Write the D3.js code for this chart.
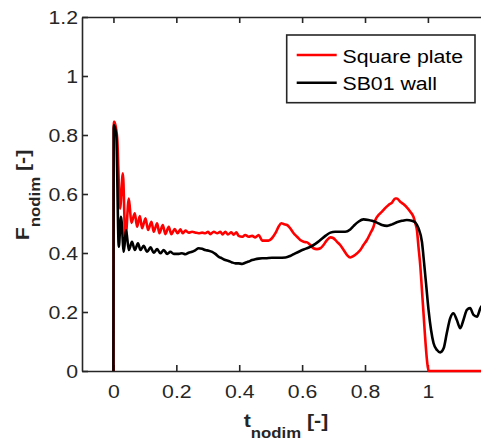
<!DOCTYPE html>
<html>
<head>
<meta charset="utf-8">
<script src="https://cdn.jsdelivr.net/npm/d3@7"></script>
<style>
body { margin: 0; background: #fff; }
svg { display: block; font-family: "Liberation Sans", Arial, Helvetica, sans-serif; }
</style>
</head>
<body>
<div id="graph"></div>
<script>
//axis ticks (the 1.2 label on x is cut off in the picture, so it stays empty)
let xTicks = [0, 0.2, 0.4, 0.6, 0.8, 1, 1.2];
let xTickLabels = ["0", "0.2", "0.4", "0.6", "0.8", "1", ""];
let yTicks = [0, 0.2, 0.4, 0.6, 0.8, 1, 1.2];
let yTickLabels = ["0", "0.2", "0.4", "0.6", "0.8", "1", "1.2"];

//series names
let seriesNames = ["Square plate", "SB01 wall"];

//square plate
let plateT = [0, 0.001, 0.003, 0.012, 0.021, 0.030, 0.038, 0.049, 0.057, 0.068,
    0.075, 0.084, 0.091, 0.102, 0.110, 0.121, 0.128, 0.139, 0.146, 0.157,
    0.165, 0.176, 0.184, 0.195, 0.204, 0.213, 0.220, 0.229, 0.239, 0.250,
    0.261, 0.271, 0.282, 0.292, 0.301, 0.308, 0.319, 0.330, 0.340, 0.347,
    0.356, 0.364, 0.375, 0.382, 0.391, 0.398, 0.409, 0.419, 0.430, 0.441,
    0.451, 0.462, 0.473, 0.483, 0.493, 0.504, 0.515, 0.525, 0.534, 0.541,
    0.552, 0.562, 0.573, 0.584, 0.594, 0.605, 0.616, 0.626, 0.636, 0.647,
    0.658, 0.668, 0.679, 0.690, 0.700, 0.711, 0.721, 0.732, 0.743, 0.753,
    0.764, 0.775, 0.785, 0.795, 0.806, 0.817, 0.827, 0.833, 0.843, 0.854,
    0.864, 0.875, 0.886, 0.896, 0.901, 0.912, 0.922, 0.933, 0.944, 0.954,
    0.960, 0.965, 0.970, 0.976, 0.981, 0.986, 0.991, 0.997, 1.002, 1.2];
let plateF = [0, 0.845, 0.845, 0.789, 0.550, 0.670, 0.444, 0.585, 0.502, 0.535,
    0.489, 0.525, 0.484, 0.518, 0.478, 0.506, 0.472, 0.501, 0.467, 0.495,
    0.464, 0.489, 0.464, 0.481, 0.467, 0.480, 0.467, 0.476, 0.469, 0.472,
    0.469, 0.467, 0.469, 0.467, 0.472, 0.464, 0.472, 0.467, 0.472, 0.463,
    0.472, 0.463, 0.470, 0.462, 0.470, 0.458, 0.455, 0.461, 0.455, 0.458,
    0.453, 0.461, 0.442, 0.442, 0.442, 0.450, 0.467, 0.489, 0.501, 0.498,
    0.495, 0.484, 0.467, 0.455, 0.444, 0.438, 0.436, 0.427, 0.416, 0.413,
    0.416, 0.427, 0.444, 0.453, 0.450, 0.438, 0.427, 0.410, 0.393, 0.385,
    0.390, 0.399, 0.410, 0.427, 0.444, 0.467, 0.489, 0.512, 0.529, 0.540,
    0.552, 0.563, 0.571, 0.585, 0.585, 0.574, 0.566, 0.555, 0.540, 0.523,
    0.501, 0.478, 0.421, 0.354, 0.275, 0.196, 0.116, 0.037, 0, 0];

//SB01 wall
let wallT = [0, 0.001, 0.009, 0.017, 0.024, 0.033, 0.040, 0.049, 0.059, 0.068,
    0.078, 0.086, 0.096, 0.107, 0.118, 0.128, 0.139, 0.149, 0.160, 0.171,
    0.181, 0.192, 0.208, 0.218, 0.229, 0.239, 0.250, 0.261, 0.271, 0.282,
    0.292, 0.303, 0.314, 0.324, 0.335, 0.345, 0.356, 0.366, 0.377, 0.388,
    0.398, 0.409, 0.419, 0.430, 0.441, 0.451, 0.462, 0.473, 0.483, 0.504,
    0.525, 0.547, 0.562, 0.578, 0.594, 0.610, 0.626, 0.642, 0.658, 0.674,
    0.690, 0.705, 0.721, 0.737, 0.753, 0.764, 0.779, 0.795, 0.811, 0.822,
    0.838, 0.854, 0.870, 0.886, 0.901, 0.917, 0.933, 0.949, 0.960, 0.970,
    0.981, 0.988, 0.995, 1.002, 1.010, 1.018, 1.029, 1.039, 1.050, 1.060,
    1.071, 1.081, 1.092, 1.103, 1.113, 1.124, 1.134, 1.145, 1.156, 1.167,
    1.178, 1.189, 1.2];
let wallF = [0, 0.834, 0.800, 0.421, 0.523, 0.404, 0.478, 0.410, 0.438, 0.410,
    0.433, 0.410, 0.424, 0.404, 0.419, 0.401, 0.413, 0.399, 0.410, 0.397,
    0.404, 0.397, 0.397, 0.399, 0.396, 0.401, 0.404, 0.410, 0.416, 0.414,
    0.410, 0.408, 0.404, 0.397, 0.387, 0.382, 0.376, 0.373, 0.368, 0.365,
    0.365, 0.363, 0.367, 0.371, 0.376, 0.379, 0.381, 0.382, 0.382, 0.384,
    0.384, 0.385, 0.390, 0.399, 0.407, 0.414, 0.421, 0.431, 0.444, 0.458,
    0.469, 0.472, 0.472, 0.472, 0.480, 0.492, 0.506, 0.514, 0.512, 0.509,
    0.503, 0.495, 0.492, 0.497, 0.504, 0.509, 0.512, 0.509, 0.503, 0.484,
    0.438, 0.365, 0.286, 0.207, 0.139, 0.094, 0.071, 0.063, 0.077, 0.128,
    0.179, 0.196, 0.173, 0.145, 0.173, 0.207, 0.213, 0.190, 0.184, 0.213,
    0.225, 0.205, 0.195];

let width = 481, height = 441;
let axisColor = "#262626";
let sx = 1.12; //glyphs in the picture are a bit wider than the font

let svg = d3.select("#graph")
    .append("svg")
    .attr("width", width)
    .attr("height", height);

//scales
let x = d3.scaleLinear().domain([-0.1, 1.2]).range([82, 490.8]);
let y = d3.scaleLinear().domain([0, 1.2]).range([371, 17]);

function styleAxis(g) {
    g.select(".domain").attr("stroke", axisColor).attr("stroke-width", 1.6);
    g.selectAll(".tick line").attr("stroke", axisColor).attr("stroke-width", 1.6);
    g.selectAll(".tick text").attr("fill", axisColor).style("font-size", "19px");
}

//bottom axis
svg.append("g")
    .attr("transform", `translate(0,${y(0)})`)
    .call(d3.axisBottom(x).tickValues(xTicks).tickSizeInner(-6).tickSizeOuter(0)
        .tickPadding(14).tickFormat((d, i) => xTickLabels[i]))
    .call(styleAxis)
    .selectAll(".tick text").attr("transform", `scale(${sx},1)`);

//top axis
svg.append("g")
    .attr("transform", `translate(0,${y(1.2)})`)
    .call(d3.axisTop(x).tickValues(xTicks).tickSizeInner(-6).tickSizeOuter(0).tickFormat(""))
    .call(styleAxis);

//left axis
svg.append("g")
    .attr("transform", `translate(${x(-0.1)},0)`)
    .call(d3.axisLeft(y).tickValues(yTicks).tickSizeInner(-6).tickSizeOuter(0)
        .tickFormat((d, i) => yTickLabels[i]))
    .call(styleAxis)
    .selectAll(".tick text")
    .attr("x", -4 / sx)
    .attr("dy", "0.34em")
    .attr("transform", `scale(${sx},1)`);

//right axis (falls outside the picture)
svg.append("g")
    .attr("transform", `translate(${x(1.2)},0)`)
    .call(d3.axisRight(y).tickValues(yTicks).tickSizeInner(-6).tickSizeOuter(0).tickFormat(""))
    .call(styleAxis);

//lines
let plate = plateT.map((t, i) => ({t: t, f: plateF[i]}));
let wall = wallT.map((t, i) => ({t: t, f: wallF[i]}));

let line = d3.line()
    .x(d => x(d.t))
    .y(d => y(d.f))
    .curve(d3.curveMonotoneX);

svg.append("path")
    .datum(plate)
    .attr("d", line)
    .attr("fill", "none")
    .attr("stroke", "#ff0000")
    .attr("stroke-width", 2.6)
    .attr("stroke-linejoin", "round");

svg.append("path")
    .datum(wall)
    .attr("d", line)
    .attr("fill", "none")
    .attr("stroke", "#000000")
    .attr("stroke-width", 2.6)
    .attr("stroke-linejoin", "round");

//legend
let legend = svg.append("g");
legend.append("rect")
    .attr("x", 286.7).attr("y", 35)
    .attr("width", 188.3).attr("height", 67.7)
    .attr("fill", "#fff")
    .attr("stroke", axisColor)
    .attr("stroke-width", 1.6);

let legendColors = ["#ff0000", "#000000"];
seriesNames.forEach(function(name, i) {
    let ly = 55 + i * 27.7;
    legend.append("line")
        .attr("x1", 296.7).attr("x2", 336.7)
        .attr("y1", ly).attr("y2", ly)
        .attr("stroke", legendColors[i])
        .attr("stroke-width", 2.6);
    legend.append("g")
        .attr("transform", `translate(342.5,${ly + 7.5})`)
        .append("text")
        .attr("transform", `scale(${sx},1)`)
        .style("font-size", "19px")
        .attr("fill", "#000")
        .text(name);
});

//x label
let xl = svg.append("g")
    .attr("transform", "translate(286,427)")
    .append("text")
    .attr("transform", `scale(${sx},1)`)
    .style("text-anchor", "middle")
    .style("font-weight", "bold")
    .style("font-size", "19px")
    .attr("fill", axisColor);
xl.append("tspan").text("t");
xl.append("tspan").attr("dy", 11).style("font-size", "15px").text("nodim");
xl.append("tspan").attr("dy", -11).text(" [-]");

//y label
let yl = svg.append("g")
    .attr("transform", "translate(28.5,195) rotate(-90)")
    .append("text")
    .attr("transform", `scale(${sx},1)`)
    .style("text-anchor", "middle")
    .style("font-weight", "bold")
    .style("font-size", "19px")
    .attr("fill", axisColor);
yl.append("tspan").text("F");
yl.append("tspan").attr("dy", 11).style("font-size", "15px").text("nodim");
yl.append("tspan").attr("dy", -11).text(" [-]");
</script>
</body>
</html>
